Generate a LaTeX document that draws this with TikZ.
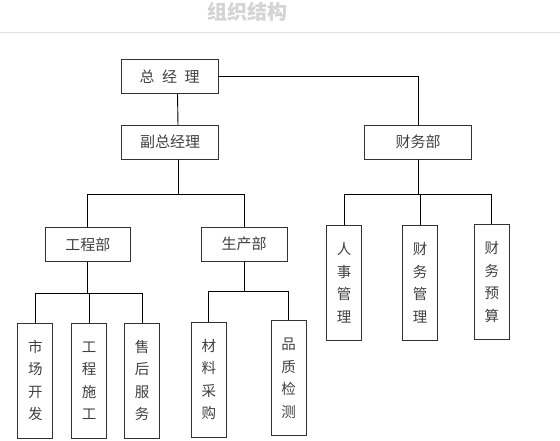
\documentclass[tikz,border=0pt]{standalone}
\usepackage{fontspec}
\newfontfamily\cjk{Noto Sans CJK SC}

\begin{document}
\begin{tikzpicture}[x=1pt,y=-1pt,line width=0.9pt,
   kuang/.style={draw=black!80,line width=0.9pt,inner sep=0pt,text=black!75,
     font=\cjk\fontsize{15}{16}\selectfont},
   heng/.style={kuang,minimum height=34pt},
   shu/.style={kuang,minimum width=35pt,minimum height=115pt,align=center,
     font=\cjk\fontsize{14.5}{22.5}\selectfont}]

  \useasboundingbox (0,0) rectangle (560,440);
  \node[font=\cjk\bfseries\fontsize{20}{20}\selectfont,text=black!17] (biaoti) at (247,12) {组织结构};
  \draw[black!12] (0,32) -- (560,32);

  % top level
  \node[heng,minimum width=97pt] (gm) at (169.5,76.7) {总\hspace{0.5em}经\hspace{0.5em}理};
  \node[heng,minimum width=97pt] (vgm) at (170,142.2) {副总经理};
  \node[heng,minimum width=107pt] (fin) at (418,142.2) {财务部};

  % departments
  \node[heng,minimum width=85pt] (eng) at (87.8,244.7) {工程部};
  \node[heng,minimum width=86pt] (prod) at (244.2,244) {生产部};

  % sections
  \node[shu] (mkt) at (35.3,380.5) {市\\场\\开\\发};
  \node[shu] (cons) at (89,380.5) {工\\程\\施\\工};
  \node[shu] (svc) at (142,380.5) {售\\后\\服\\务};
  \node[shu] (mat) at (208.8,379.7) {材\\料\\采\\购};
  \node[shu] (qc) at (288.5,378.3) {品\\质\\检\\测};
  \node[shu] (hr) at (344.2,282.8) {人\\事\\管\\理};
  \node[shu] (acc) at (420.2,282.8) {财\\务\\管\\理};
  \node[shu] (bud) at (491.8,282) {财\\务\\预\\算};

  \draw (gm.east) -| (fin.north);
  \draw ([xshift=8pt]gm.south) -- ([xshift=8pt]vgm.north);
  \draw ([xshift=8pt]vgm.south) -- ++(0,35) -| (eng.north);
  \draw ([xshift=8pt]vgm.south) -- ++(0,35) -| (prod.north);
  \foreach \from/\to/\drop in {fin/hr/35,fin/acc/35,fin/bud/35,eng/mkt/31,eng/cons/31,
      eng/svc/31,prod/mat/30,prod/qc/30}
    \draw (\from.south) -- ++(0,\drop) -| (\to.north);
\end{tikzpicture}
\end{document}
